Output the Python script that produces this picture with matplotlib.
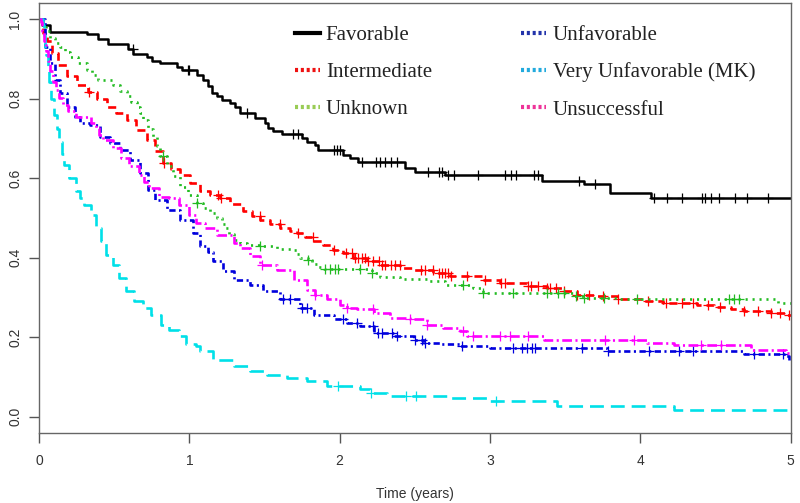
import numpy as np
import matplotlib
matplotlib.use("Agg")
import matplotlib.pyplot as plt
from matplotlib.lines import Line2D

plt.rcParams['lines.scale_dashes'] = False
plt.rcParams['font.family'] = ['Liberation Sans', 'DejaVu Sans']

# Kaplan-Meier curves: step times (years) and survival after each step
fav_t = [0, 0.02, 0.073, 0.318, 0.393, 0.459, 0.593, 0.626, 0.719, 0.752, 0.806, 0.919, 0.952,
         1.052, 1.092, 1.125, 1.152, 1.185, 1.218, 1.272, 1.305, 1.338, 1.438, 1.505, 1.525, 1.558,
         1.618, 1.751, 1.784, 1.838, 1.858, 2.024, 2.071, 2.124, 2.437, 2.503, 2.703, 3.349, 3.622,
         3.795, 4.068]
fav_s = [1.0, 0.985, 0.969, 0.962, 0.950, 0.937, 0.925, 0.912, 0.905, 0.896, 0.889, 0.881, 0.872,
         0.860, 0.847, 0.831, 0.814, 0.806, 0.797, 0.789, 0.779, 0.764, 0.751, 0.739, 0.726, 0.718,
         0.712, 0.701, 0.690, 0.683, 0.671, 0.659, 0.651, 0.640, 0.626, 0.615, 0.607, 0.594, 0.585,
         0.563, 0.550]
fav_c = [0.624, 0.99, 1.00, 1.385, 1.69, 1.72, 1.96, 1.98, 2.00, 2.15, 2.24, 2.27, 2.30, 2.34, 2.38,
         2.59, 2.66, 2.68, 2.72, 2.76, 2.92, 3.10, 3.14, 3.17, 3.29, 3.32, 3.59, 3.70, 4.09, 4.18,
         4.28, 4.41, 4.43, 4.47, 4.52, 4.63, 4.71, 4.85]

int_t = [0, 0.027, 0.051, 0.085, 0.126, 0.184, 0.253, 0.328, 0.386, 0.451, 0.513, 0.584, 0.646,
         0.717, 0.772, 0.828, 0.879, 0.939, 1.005, 1.072, 1.138, 1.205, 1.272, 1.358, 1.418, 1.471,
         1.538, 1.604, 1.671, 1.718, 1.771, 1.824, 1.891, 1.957, 2.024, 2.091, 2.182, 2.270, 2.403,
         2.490, 2.623, 2.736, 2.956, 3.069, 3.247, 3.380, 3.489, 3.580, 3.713, 3.846, 4.021, 4.154,
         4.288, 4.379, 4.487, 4.601, 4.687, 4.867, 4.967]
int_s = [1.0, 0.965, 0.944, 0.914, 0.885, 0.856, 0.835, 0.818, 0.800, 0.780, 0.765, 0.747, 0.722,
         0.697, 0.668, 0.638, 0.622, 0.609, 0.588, 0.567, 0.558, 0.550, 0.535, 0.517, 0.505, 0.496,
         0.485, 0.476, 0.468, 0.463, 0.452, 0.441, 0.431, 0.420, 0.412, 0.400, 0.393, 0.383, 0.375,
         0.370, 0.362, 0.353, 0.343, 0.337, 0.330, 0.324, 0.316, 0.307, 0.303, 0.297, 0.291, 0.286,
         0.285, 0.280, 0.276, 0.270, 0.265, 0.261, 0.257]
int_c = [0.33, 0.83, 1.19, 1.21, 1.47, 1.60, 1.72, 1.82, 1.96, 2.04, 2.08, 2.10, 2.12, 2.15, 2.17,
         2.19, 2.22, 2.26, 2.28, 2.30, 2.34, 2.37, 2.40, 2.54, 2.57, 2.62, 2.66, 2.68, 2.70, 2.72,
         2.74, 2.85, 2.97, 3.07, 3.10, 3.25, 3.27, 3.32, 3.38, 3.40, 3.44, 3.49, 3.58, 3.66, 3.75,
         3.85, 4.05, 4.17, 4.28, 4.35, 4.45, 4.53, 4.69, 4.78, 4.87, 4.93, 4.99]

unk_t = [0, 0.029, 0.047, 0.073, 0.107, 0.140, 0.173, 0.206, 0.260, 0.318, 0.353, 0.395, 0.493,
         0.539, 0.584, 0.613, 0.650, 0.672, 0.694, 0.726, 0.761, 0.786, 0.806, 0.850, 0.892, 0.939,
         0.992, 1.050, 1.092, 1.138, 1.183, 1.218, 1.238, 1.265, 1.294, 1.338, 1.383, 1.471, 1.583,
         1.691, 1.718, 1.738, 1.791, 1.818, 1.849, 1.897, 2.215, 2.270, 2.403, 2.581, 2.703, 2.889,
         2.956, 3.555, 3.622, 3.846, 4.913]
unk_s = [1.0, 0.986, 0.970, 0.952, 0.940, 0.931, 0.918, 0.906, 0.890, 0.873, 0.860, 0.847, 0.835,
         0.820, 0.806, 0.793, 0.780, 0.765, 0.747, 0.725, 0.705, 0.680, 0.655, 0.630, 0.605, 0.579,
         0.558, 0.538, 0.525, 0.513, 0.500, 0.485, 0.475, 0.460, 0.445, 0.437, 0.433, 0.429, 0.423,
         0.420, 0.410, 0.400, 0.395, 0.385, 0.378, 0.372, 0.362, 0.352, 0.347, 0.341, 0.332, 0.324,
         0.312, 0.303, 0.299, 0.297, 0.285]
unk_c = [0.826, 1.052, 1.471, 1.791, 1.904, 1.937, 1.971, 1.991, 2.137, 2.217, 2.823, 2.956, 3.156,
         3.382, 3.449, 3.489, 3.569, 3.622, 3.755, 3.981, 4.587, 4.620, 4.654]

unf_t = [0, 0.040, 0.073, 0.107, 0.140, 0.184, 0.240, 0.273, 0.340, 0.406, 0.473, 0.539, 0.606,
         0.672, 0.728, 0.772, 0.850, 0.939, 1.027, 1.072, 1.125, 1.160, 1.227, 1.294, 1.405, 1.493,
         1.605, 1.738, 1.826, 1.959, 2.049, 2.137, 2.226, 2.359, 2.492, 2.559, 2.670, 2.803, 3.003,
         3.780, 4.687, 4.953, 4.987]
unf_s = [1.0, 0.931, 0.889, 0.847, 0.814, 0.780, 0.755, 0.739, 0.734, 0.705, 0.688, 0.672, 0.646,
         0.613, 0.571, 0.546, 0.521, 0.496, 0.462, 0.430, 0.415, 0.391, 0.366, 0.345, 0.332, 0.316,
         0.295, 0.274, 0.257, 0.245, 0.236, 0.228, 0.211, 0.203, 0.194, 0.186, 0.182, 0.177, 0.173,
         0.165, 0.157, 0.152, 0.140]
unf_c = [1.625, 1.671, 1.751, 1.784, 2.024, 2.117, 2.224, 2.257, 2.284, 2.350, 2.384, 2.503, 2.550,
         2.570, 2.816, 3.156, 3.216, 3.249, 3.282, 3.302, 3.615, 3.782, 4.055, 4.255, 4.348, 4.754,
         4.947]

vun_t = [0, 0.025, 0.030, 0.037, 0.042, 0.047, 0.057, 0.069, 0.083, 0.102, 0.118, 0.135, 0.151,
         0.168, 0.202, 0.246, 0.273, 0.302, 0.346, 0.379, 0.413, 0.446, 0.491, 0.535, 0.579, 0.634,
         0.690, 0.746, 0.812, 0.868, 0.934, 0.979, 1.045, 1.072, 1.160, 1.294, 1.405, 1.516, 1.649,
         1.782, 1.915, 2.137, 2.204, 2.315, 2.736, 2.981, 3.447, 4.221]
vun_s = [1.0, 0.986, 0.960, 0.935, 0.920, 0.910, 0.875, 0.843, 0.800, 0.760, 0.725, 0.692, 0.660,
         0.634, 0.600, 0.567, 0.550, 0.533, 0.508, 0.475, 0.441, 0.408, 0.383, 0.349, 0.316, 0.290,
         0.274, 0.257, 0.232, 0.219, 0.203, 0.182, 0.177, 0.165, 0.144, 0.127, 0.115, 0.106, 0.098,
         0.089, 0.077, 0.069, 0.060, 0.052, 0.048, 0.039, 0.027, 0.018]
vun_c = [1.99, 2.21, 2.44, 2.51, 3.04]

uns_t = [0, 0.013, 0.023, 0.035, 0.047, 0.058, 0.073, 0.091, 0.113, 0.135, 0.160, 0.191, 0.246,
         0.346, 0.379, 0.399, 0.424, 0.491, 0.546, 0.601, 0.668, 0.699, 0.734, 0.801, 0.868, 0.934,
         1.001, 1.045, 1.105, 1.183, 1.294, 1.338, 1.405, 1.471, 1.583, 1.693, 1.782, 1.838, 1.915,
         2.004, 2.049, 2.115, 2.226, 2.337, 2.470, 2.581, 2.690, 2.803, 2.848, 3.356, 4.046, 4.221,
         4.734, 4.967]
uns_s = [1.0, 0.994, 0.970, 0.944, 0.920, 0.894, 0.870, 0.843, 0.822, 0.801, 0.785, 0.768, 0.755,
         0.739, 0.726, 0.710, 0.697, 0.676, 0.651, 0.630, 0.609, 0.590, 0.575, 0.554, 0.550, 0.533,
         0.508, 0.487, 0.475, 0.458, 0.437, 0.425, 0.404, 0.383, 0.370, 0.345, 0.320, 0.307, 0.295,
         0.282, 0.274, 0.270, 0.260, 0.249, 0.245, 0.230, 0.224, 0.215, 0.203, 0.194, 0.186, 0.180,
         0.167, 0.161]
uns_c = [1.483, 1.838, 2.049, 2.224, 2.470, 2.581, 2.823, 2.890, 3.069, 3.136, 3.256, 3.768, 3.955,
         4.401, 4.534]

labels = ["Favorable", "Intermediate", "Unknown", "Unfavorable", "Very Unfavorable (MK)", "Unsuccessful"]

curves = [
    (fav_t, fav_s, fav_c, "black", "-"),
    (int_t, int_s, int_c, "#ff0000", (0, (5.8, 3.6))),
    (unk_t, unk_s, unk_c, "#22bb22", (0, (1.5, 3.5))),
    (unf_t, unf_s, unf_c, "#0000dd", (0, (4.5, 2.5, 1.5, 2.5))),
    (vun_t, vun_s, vun_c, "#00e0e8", (0, (10, 5))),
    (uns_t, uns_s, uns_c, "#ff00ff", (0, (7, 2.5, 1.5, 2.5))),
]

fig = plt.figure(figsize=(8, 5.03), dpi=100)
ax = fig.add_axes([0.04875, 0.1398, 0.9396, 0.8536])

for t, s, c, col, ls in curves:
    t = np.append(t, 5.0)
    s = np.append(s, s[-1])
    ax.step(t, s, where='post', color=col, linestyle=ls, lw=1.8 if ls == "-" else 1.9)
    idx = np.searchsorted(t, c, side='right') - 1
    ax.plot(c, s[idx], linestyle='none', marker='+', color=col, markersize=7, mew=0.9)

ax.set_xlim(0, 5)
ax.set_ylim(-0.04, 1.04)
ax.set_xticks([0, 1, 2, 3, 4, 5])
ax.set_yticks([0.0, 0.2, 0.4, 0.6, 0.8, 1.0])
ax.set_yticklabels(["0.0", "0.2", "0.4", "0.6", "0.8", "1.0"], rotation=90, va='center')
ax.tick_params(axis='both', direction='out', length=7, width=1, color='#555555',
               labelcolor='#333333', labelsize=10)
ax.tick_params(axis='x', pad=8)
ax.tick_params(axis='y', pad=5)
for sp in ax.spines.values():
    sp.set_color('#666666')
    sp.set_linewidth(1.0)
ax.set_xlabel("Time (years)", fontsize=10, color='#333333', labelpad=14)

# legend pasted in serif type with short dotted keys
leg_cols = ["black", "#ee1111", "#99cc55", "#2233aa", "#22aadd", "#ee3399"]
handles = []
for i, col in enumerate(leg_cols):
    if i == 0:
        handles.append(Line2D([], [], color=col, lw=3, linestyle='-'))
    else:
        handles.append(Line2D([], [], color=col, lw=3, linestyle=(0, (2.2, 2.0))))
leg = ax.legend(handles, labels, ncol=2, frameon=False, loc='upper left',
                bbox_to_anchor=(0.315, 0.992), handlelength=1.2, handletextpad=0.3,
                columnspacing=4.3, labelspacing=0.84,
                prop={'family': 'Liberation Serif', 'size': 15})
for txt in leg.get_texts():
    txt.set_color('#222222')

fig.savefig("out.png", dpi=100)
